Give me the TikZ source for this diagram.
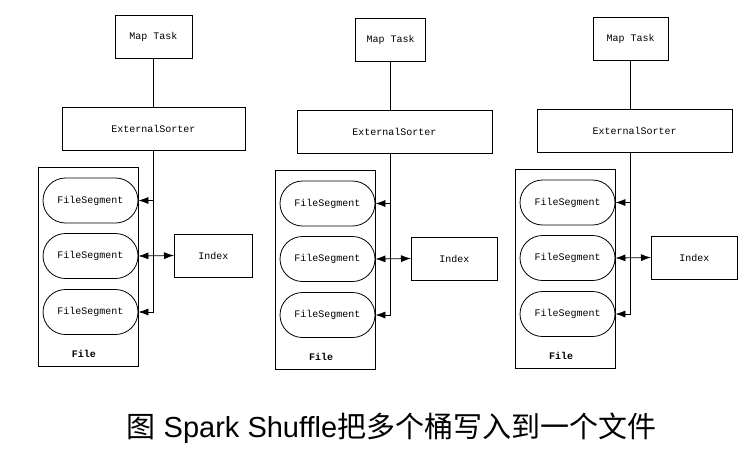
\documentclass[tikz,border=0pt]{standalone}
\usepackage{fontspec}
\setmainfont{Liberation Sans}
\setmonofont{Liberation Mono}
\newfontfamily\cjk{Noto Sans CJK SC}
\usetikzlibrary{arrows.meta,shapes.misc}

\tikzset{
  box/.style={draw, line width=0.8pt, inner sep=0pt, font=\ttfamily\fontsize{10}{12}\selectfont},
  seg/.style={box, rounded rectangle, minimum width=95pt, minimum height=45pt},
  tip/.style={-{Latex[length=10pt,width=7pt]}, line width=0.8pt},
  dtip/.style={{Latex[length=10pt,width=7pt]}-{Latex[length=10pt,width=7pt]}, line width=0.8pt},
}

\begin{document}
\begin{tikzpicture}[x=1pt,y=-1pt]
\useasboundingbox (0,0) rectangle (741,453);

% one map task per copy
\foreach \n/\dx/\dy/\mw/\ex/\ew/\iw in {a/0/0/77/153.5/183/78, b/237/3/70/157.5/195/86, c/477/2/75/157.5/195/86}{
  \begin{scope}[shift={(\dx,\dy)}]
    \coordinate (v\n) at (153,0);
    \node[box, minimum width=\mw pt, minimum height=43pt] (mt\n) at (153.5,36.5) {Map Task};
    \node[box, minimum width=\ew pt, minimum height=43pt] (es\n) at (\ex,128.5) {ExternalSorter};

    % the file and its segments
    \node[box, minimum width=100pt, minimum height=199pt] (f\n) at (88,266.5) {};
    \node[seg] (s1\n) at (90.5,200.5) {FileSegment};
    \node[seg] (s2\n) at (90.5,256) {FileSegment};
    \node[seg] (s3\n) at (90.5,312) {FileSegment};
    \node[font=\ttfamily\bfseries\fontsize{10}{12}\selectfont] (fl\n) at (84,354) {File};

    \node[box, anchor=west, minimum width=\iw pt, minimum height=43pt] (ix\n) at (174,255.5) {Index};

    \draw[line width=0.8pt] (mt\n.south) -- (mt\n.south |- es\n.north);
    \draw[tip] (v\n |- es\n.south) |- (s3\n.east);
    \draw[tip] (v\n |- s1\n.east) -- (s1\n.east);
    \draw[dtip] (s2\n.east) -- (ix\n.west);
  \end{scope}
}

\node[font=\fontsize{29}{29}\selectfont] (cap) at (391.5,428) {{\cjk 图} Spark Shuffle{\cjk 把多个桶写入到一个文件}};

\end{tikzpicture}
\end{document}
